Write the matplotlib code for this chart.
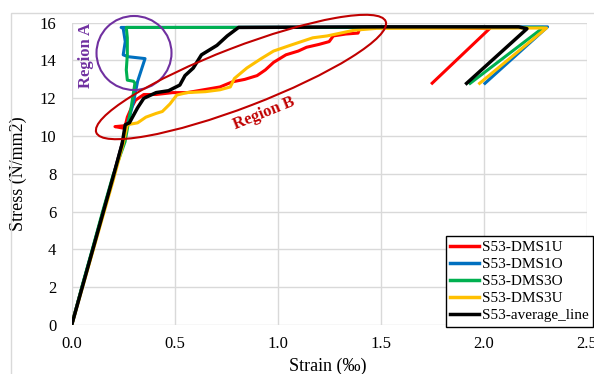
import matplotlib
matplotlib.use("Agg")
import matplotlib.pyplot as plt
from matplotlib.patches import Ellipse, Rectangle
import numpy as np

plt.rcParams['font.family'] = ['Liberation Serif', 'DejaVu Serif']

# strain (permille) / stress (N/mm2)
red_x = [0, 0.05, 0.10, 0.15, 0.20, 0.25, 0.26, 0.21, 0.26, 0.27, 0.29, 0.31, 0.35, 0.41, 0.49, 0.56,
         0.64, 0.72, 0.78, 0.84, 0.90, 0.94, 0.98, 1.04, 1.10, 1.14, 1.20, 1.25, 1.27, 1.33, 1.39, 1.40,
         1.70, 2.03, 1.75]
red_y = [0, 2.0, 3.9, 5.9, 7.8, 9.8, 10.4, 10.5, 10.55, 11.0, 11.5, 11.9, 12.2, 12.2, 12.3, 12.3,
         12.45, 12.6, 12.87, 13.0, 13.2, 13.5, 13.9, 14.3, 14.5, 14.7, 14.85, 15.0, 15.3, 15.4, 15.45, 15.75,
         15.75, 15.7, 12.8]

blue_x = [0, 0.05, 0.10, 0.15, 0.20, 0.25, 0.30, 0.32, 0.356, 0.274, 0.25, 0.26, 0.25, 0.24, 0.5, 2.31, 2.006]
blue_y = [0, 2.0, 3.95, 5.9, 7.8, 9.8, 11.8, 12.9, 14.1, 14.2, 14.3, 15.0, 15.7, 15.75, 15.75, 15.78, 12.79]

green_x = [0, 0.05, 0.10, 0.15, 0.20, 0.259, 0.29, 0.307, 0.30, 0.27, 0.265, 0.27, 0.27, 0.265, 0.8, 2.29, 1.934]
green_y = [0, 2.05, 4.0, 6.0, 7.9, 9.7, 11.6, 12.8, 12.9, 12.96, 13.5, 14.3, 15.2, 15.75, 15.75, 15.75, 12.79]

yellow_x = [0, 0.05, 0.10, 0.15, 0.20, 0.25, 0.27, 0.32, 0.36, 0.41, 0.44, 0.477, 0.51, 0.56, 0.65, 0.72,
            0.77, 0.79, 0.85, 0.92, 0.98, 1.06, 1.17, 1.24, 1.37, 1.48, 2.305, 1.98]
yellow_y = [0, 1.9, 3.8, 5.7, 7.6, 9.6, 10.6, 10.7, 11.0, 11.2, 11.3, 11.7, 12.17, 12.3, 12.35, 12.45,
            12.6, 13.05, 13.6, 14.1, 14.5, 14.8, 15.2, 15.3, 15.6, 15.7, 15.72, 12.79]

black_x = [0, 0.05, 0.10, 0.15, 0.20, 0.245, 0.26, 0.28, 0.32, 0.35, 0.41, 0.47, 0.525, 0.55, 0.59, 0.63,
           0.66, 0.705, 0.755, 0.81, 1.5, 2.17, 2.21, 1.917]
black_y = [0, 1.95, 3.9, 5.85, 7.8, 9.6, 10.6, 10.7, 11.5, 12.0, 12.3, 12.4, 12.7, 13.2, 13.6, 14.3,
           14.5, 14.8, 15.3, 15.75, 15.78, 15.78, 15.68, 12.79]

labels = ["S53-DMS1U", "S53-DMS1O", "S53-DMS3O", "S53-DMS3U", "S53-average_line"]
colors = ["#FF0000", "#0070C0", "#00B050", "#FFC000", "#000000"]

fig = plt.figure(figsize=(5.94, 3.74), dpi=100)
ax = fig.add_axes([0.1207, 0.131, 0.8670, 0.8083])

series = [(red_x, red_y), (blue_x, blue_y), (green_x, green_y), (yellow_x, yellow_y), (black_x, black_y)]
for (xs, ys), lab, c in zip(series, labels, colors):
    lw = 2.5 if c == "#000000" else 2.2
    ax.plot(xs, ys, color=c, lw=lw, label=lab, solid_joinstyle='round', zorder=3)

ax.set_xlim(0, 2.5)
ax.set_ylim(0, 16)
ax.set_xticks(np.arange(0, 2.51, 0.5))
ax.set_xticklabels(["%.1f" % v for v in np.arange(0, 2.51, 0.5)])
ax.set_yticks(np.arange(0, 17, 2))
ax.tick_params(length=0, labelsize=12, colors='#000000')
ax.tick_params(axis='y', pad=11)
ax.tick_params(axis='x', pad=8)
ax.grid(True, color='#D9D9D9', lw=1.0, zorder=0)
for s in ax.spines.values():
    s.set_visible(False)

ax.set_xlabel("Strain (‰)", fontsize=13)
ax.set_ylabel("Stress (N/mm2)", fontsize=13)
ax.xaxis.set_label_coords(0.498, -0.108)
ax.yaxis.set_label_coords(-0.087, 0.5)

leg = ax.legend(loc='lower right', bbox_to_anchor=(593 / 594, (374 - 326.7) / 374),
                bbox_transform=fig.transFigure, fontsize=11, frameon=True, fancybox=False,
                edgecolor='black', framealpha=1, borderpad=0.3, labelspacing=0.22,
                handlelength=1.9, handletextpad=0.15, borderaxespad=0)
leg.get_frame().set_linewidth(1.0)
for ln in leg.get_lines():
    ln.set_linewidth(2.5)

# annotations (positions in inches, 100 px per inch)
tr = fig.dpi_scale_trans
fig.patches.append(Ellipse((1.34, 3.21), 0.75, 0.74, fill=False, ec='#7030A0', lw=1.5,
                           transform=tr, figure=fig, zorder=5))
fig.patches.append(Ellipse((2.41, 2.97), 3.10, 0.60, angle=21, fill=False, ec='#C00000', lw=1.5,
                           transform=tr, figure=fig, zorder=5))
fig.text(0.855, 3.19, "Region A", rotation=90, color='#7030A0', fontsize=12, fontweight='bold',
         ha='center', va='center', transform=tr)
fig.text(2.64, 2.61, "Region B", rotation=22, color='#C00000', fontsize=12, fontweight='bold',
         ha='center', va='center', transform=tr)

# outer chart border
fig.patches.append(Rectangle((0.105, -0.1), 6.0, 3.74 - 0.135 + 0.1, fill=False, ec='#D9D9D9',
                             lw=1.0, transform=tr, figure=fig))

fig.savefig("out.png", dpi=100)
